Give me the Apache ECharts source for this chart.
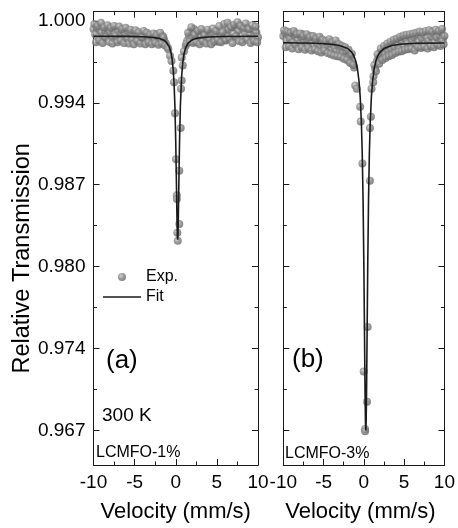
<!DOCTYPE html>
<html>
<head>
<meta charset="utf-8">
<script src="https://cdn.jsdelivr.net/npm/echarts@6.0.0/dist/echarts.min.js"></script>
<style>
  html, body { margin: 0; padding: 0; background: #ffffff; }
  #chart { width: 458px; height: 528px; }
</style>
</head>
<body>
<div id="chart"></div>
<script>
// Mössbauer spectra at 300 K: LCMFO-1% (a) and LCMFO-3% (b)

// Velocity channels of the flat wings (mm/s), shared by both spectra
const wingVel = [
  -10, -9.8, -9.6, -9.4, -9.2, -9, -8.8, -8.6, -8.4, -8.2,
  -8, -7.8, -7.6, -7.4, -7.2, -7, -6.8, -6.6, -6.4, -6.2,
  -6, -5.8, -5.6, -5.4, -5.2, -5, -4.8, -4.6, -4.4, -4.2,
  -4, -3.8, -3.6, -3.4, -3.2, -3, -2.8, -2.6, -2.4, -2.2,
  -2, -1.8, -1.6, -1.4, -1.2,
  1.2, 1.4, 1.6, 1.8, 2, 2.2, 2.4, 2.6, 2.8, 3,
  3.2, 3.4, 3.6, 3.8, 4, 4.2, 4.4, 4.6, 4.8, 5,
  5.2, 5.4, 5.6, 5.8, 6, 6.2, 6.4, 6.6, 6.8, 7,
  7.2, 7.4, 7.6, 7.8, 8, 8.2, 8.4, 8.6, 8.8, 9,
  9.2, 9.4, 9.6, 9.8, 10
];
// Interleaved channels between the ones above
const wingVel2 = [
  -9.9, -9.7, -9.5, -9.3, -9.1, -8.9, -8.7, -8.5, -8.3, -8.1,
  -7.9, -7.7, -7.5, -7.3, -7.1, -6.9, -6.7, -6.5, -6.3, -6.1,
  -5.9, -5.7, -5.5, -5.3, -5.1, -4.9, -4.7, -4.5, -4.3, -4.1,
  -3.9, -3.7, -3.5, -3.3, -3.1, -2.9, -2.7, -2.5, -2.3, -2.1,
  -1.9, -1.7, -1.5, -1.3,
  1.3, 1.5, 1.7, 1.9, 2.1, 2.3, 2.5, 2.7, 2.9, 3.1,
  3.3, 3.5, 3.7, 3.9, 4.1, 4.3, 4.5, 4.7, 4.9, 5.1,
  5.3, 5.5, 5.7, 5.9, 6.1, 6.3, 6.5, 6.7, 6.9, 7.1,
  7.3, 7.5, 7.7, 7.9, 8.1, 8.3, 8.5, 8.7, 8.9, 9.1,
  9.3, 9.5, 9.7, 9.9
];

// LCMFO-1%: measured transmission on the wings
const wingA = [
  0.99935, 0.99895, 0.99948, 0.99872, 0.99930, 0.99905, 0.99858, 0.99920, 0.99940, 0.99880,
  0.99912, 0.99865, 0.99925, 0.99895, 0.99850, 0.99918, 0.99890, 0.99930, 0.99862, 0.99900,
  0.99875, 0.99915, 0.99848, 0.99895, 0.99870, 0.99905, 0.99855, 0.99885, 0.99840, 0.99900,
  0.99868, 0.99845, 0.99890, 0.99858, 0.99880, 0.99838, 0.99875, 0.99850, 0.99895, 0.99842,
  0.99870, 0.99835, 0.99880, 0.99845, 0.99820,
  0.99800, 0.99845, 0.99880, 0.99915, 0.99870, 0.99935, 0.99890, 0.99850, 0.99905, 0.99875,
  0.99840, 0.99900, 0.99865, 0.99910, 0.99845, 0.99885, 0.99905, 0.99860, 0.99895, 0.99870,
  0.99835, 0.99900, 0.99875, 0.99915, 0.99850, 0.99890, 0.99930, 0.99865, 0.99945, 0.99900,
  0.99955, 0.99880, 0.99925, 0.99965, 0.99850, 0.99935, 0.99905, 0.99870, 0.99940, 0.99895,
  0.99860, 0.99925, 0.99880, 0.99910, 0.99870
];
const wingA2 = [
  0.99975, 0.99830, 0.99960, 0.99845, 0.99985, 0.99825, 0.99950, 0.99870, 0.99965, 0.99835,
  0.99945, 0.99820, 0.99960, 0.99880, 0.99830, 0.99955, 0.99845, 0.99935, 0.99825, 0.99945,
  0.99860, 0.99820, 0.99930, 0.99850, 0.99815, 0.99925, 0.99840, 0.99910, 0.99820, 0.99870,
  0.99920, 0.99815, 0.99905, 0.99830, 0.99890, 0.99815, 0.99900, 0.99825, 0.99885, 0.99810,
  0.99905, 0.99820, 0.99870, 0.99805,
  0.99820, 0.99905, 0.99835, 0.99950, 0.99825, 0.99890, 0.99830, 0.99920, 0.99815, 0.99935,
  0.99840, 0.99885, 0.99820, 0.99930, 0.99855, 0.99815, 0.99940, 0.99835, 0.99920, 0.99850,
  0.99960, 0.99830, 0.99910, 0.99975, 0.99845, 0.99985, 0.99860, 0.99950, 0.99825, 0.99970,
  0.99875, 0.99990, 0.99840, 0.99960, 0.99830, 0.99945, 0.99980, 0.99850, 0.99935, 0.99825,
  0.99965, 0.99840, 0.99955, 0.99830
];
// LCMFO-1%: channels inside the absorption line
const dipVelA = [-1.0, -0.91, -0.70, -0.52, -0.30, -0.21, -0.09, 0.03, 0.12, 0.13,
                 0.19, 0.24, 0.43, 0.43, 0.60, 0.64, 0.72, 0.72, 0.85, 1.0];
const dipA = [0.99790, 0.99775, 0.99723, 0.99681, 0.99605, 0.99514, 0.99266, 0.98901, 0.98616, 0.98587,
              0.98319, 0.98254, 0.98387, 0.98810, 0.99149, 0.99462, 0.99527, 0.99710, 0.99645, 0.99760];
// LCMFO-1%: fitted curve
const fitVelA = [-10, -6, -4, -3, -2, -1.5, -1.2, -1.0, -0.8, -0.6, -0.45, -0.3, -0.2, -0.1, 0,
                 0.08, 0.15, 0.2, 0.23, 0.26, 0.3, 0.38, 0.46, 0.56, 0.7, 0.85, 1.0, 1.2, 1.5,
                 2, 2.5, 3.5, 4.5, 6, 10];
const fitA = [0.99878, 0.99877, 0.99874, 0.99870, 0.99861, 0.99849, 0.99835, 0.99820, 0.99796, 0.99754,
              0.99700, 0.99604, 0.99495, 0.99320, 0.99037, 0.98718, 0.98425, 0.98289, 0.98264, 0.98289,
              0.98391, 0.98718, 0.99037, 0.99320, 0.99545, 0.99669, 0.99736, 0.99786, 0.99823, 0.99850,
              0.99861, 0.99870, 0.99874, 0.99876, 0.99878];

// LCMFO-3%: measured transmission on the wings
const wingB = [
  0.99880, 0.99905, 0.99845, 0.99895, 0.99860, 0.99910, 0.99830, 0.99885, 0.99900, 0.99850,
  0.99820, 0.99870, 0.99895, 0.99835, 0.99860, 0.99810, 0.99850, 0.99880, 0.99825, 0.99800,
  0.99845, 0.99815, 0.99865, 0.99790, 0.99830, 0.99805, 0.99780, 0.99840, 0.99795, 0.99820,
  0.99770, 0.99810, 0.99785, 0.99760, 0.99800, 0.99755, 0.99780, 0.99740, 0.99720, 0.99760,
  0.99700, 0.99680, 0.99720, 0.99660, 0.99630,
  0.99560, 0.99620, 0.99680, 0.99700, 0.99745, 0.99720, 0.99770, 0.99740, 0.99795, 0.99760,
  0.99805, 0.99775, 0.99830, 0.99790, 0.99850, 0.99810, 0.99775, 0.99840, 0.99870, 0.99800,
  0.99855, 0.99820, 0.99880, 0.99790, 0.99845, 0.99870, 0.99810, 0.99885, 0.99835, 0.99800,
  0.99860, 0.99890, 0.99820, 0.99865, 0.99840, 0.99800, 0.99875, 0.99900, 0.99830, 0.99870,
  0.99810, 0.99885, 0.99910, 0.99850, 0.99880
];
const wingB2 = [
  0.99925, 0.99790, 0.99915, 0.99800, 0.99905, 0.99780, 0.99920, 0.99810, 0.99895, 0.99775,
  0.99900, 0.99790, 0.99880, 0.99770, 0.99895, 0.99785, 0.99870, 0.99765, 0.99880, 0.99775,
  0.99860, 0.99760, 0.99875, 0.99750, 0.99850, 0.99765, 0.99840, 0.99745, 0.99855, 0.99735,
  0.99830, 0.99725, 0.99845, 0.99720, 0.99815, 0.99715, 0.99800, 0.99700, 0.99790, 0.99690,
  0.99770, 0.99665, 0.99740, 0.99650,
  0.99650, 0.99600, 0.99735, 0.99660, 0.99780, 0.99690, 0.99800, 0.99705, 0.99820, 0.99720,
  0.99835, 0.99730, 0.99850, 0.99745, 0.99860, 0.99755, 0.99875, 0.99760, 0.99885, 0.99770,
  0.99890, 0.99775, 0.99895, 0.99780, 0.99900, 0.99765, 0.99905, 0.99790, 0.99915, 0.99785,
  0.99910, 0.99795, 0.99920, 0.99780, 0.99925, 0.99800, 0.99915, 0.99790, 0.99930, 0.99810,
  0.99920, 0.99800, 0.99935, 0.99815
];
// LCMFO-3%: channels inside the absorption line
const dipVelB = [-1.07, -0.88, -0.46, -0.39, -0.18, -0.02, 0.15, 0.15, 0.39, 0.47,
                 0.75, 0.75, 0.87, 0.95, 1.16];
const dipB = [0.99488, 0.99462, 0.99319, 0.99201, 0.98869, 0.97217, 0.96761, 0.96743, 0.96978, 0.97570,
              0.98731, 0.99149, 0.99240, 0.99462, 0.99514];
// LCMFO-3%: fitted curve
const fitVelB = [-10, -6, -4, -3, -2, -1.5, -1.2, -1.0, -0.8, -0.6, -0.45, -0.3, -0.2, -0.1, 0,
                 0.08, 0.15, 0.2, 0.24, 0.28, 0.33, 0.40, 0.48, 0.58, 0.68, 0.78, 0.93, 1.08, 1.28,
                 1.48, 1.68, 1.98, 2.48, 3.48, 4.48, 6.48, 10];
const fitB = [0.99826, 0.99822, 0.99815, 0.99805, 0.99781, 0.99750, 0.99716, 0.99679, 0.99620, 0.99520,
              0.99393, 0.99176, 0.98941, 0.98584, 0.98054, 0.97508, 0.97038, 0.96812, 0.96750, 0.96812,
              0.97038, 0.97508, 0.98054, 0.98584, 0.98941, 0.99176, 0.99393, 0.99520, 0.99620, 0.99679,
              0.99716, 0.99750, 0.99781, 0.99805, 0.99815, 0.99822, 0.99825];

// Transmission axis: major ticks with their printed labels, and minor ticks
const yTickValues = [0.9675, 0.974, 0.9805, 0.987, 0.9935, 1.000];
const yTickLabels = ['0.967', '0.974', '0.980', '0.987', '0.994', '1.000'];
const yMinorValues = [0.97075, 0.97725, 0.98375, 0.99025, 0.99675];
const yRange = [0.96475, 1.00073];
const xRange = [-10, 10];

function zip(xs, ys) {
  const n = Math.min(xs.length, ys.length);
  const out = [];
  for (let i = 0; i < n; i++) out.push([xs[i], ys[i]]);
  return out;
}

const expA = zip(wingVel, wingA).concat(zip(wingVel2, wingA2), zip(dipVelA, dipA));
const expB = zip(wingVel, wingB).concat(zip(wingVel2, wingB2), zip(dipVelB, dipB));
const curveA = zip(fitVelA, fitA);
const curveB = zip(fitVelB, fitB);

const FONT = '"Liberation Sans", Arial, Helvetica, sans-serif';
const INK = '#1a1a1a';

// shaded grey ball used for the measured points
const sphere = {
  type: 'radial', x: 0.38, y: 0.35, r: 0.7,
  colorStops: [
    { offset: 0, color: '#c8c8c8' },
    { offset: 0.4, color: '#8c8c8c' },
    { offset: 1, color: '#606060' }
  ]
};

function labelFor(v) {
  for (let i = 0; i < yTickValues.length; i++) {
    if (Math.abs(yTickValues[i] - v) < 1e-7) return yTickLabels[i];
  }
  return '';
}

function xAxes(gridIndex) {
  const common = {
    gridIndex: gridIndex, type: 'value', min: xRange[0], max: xRange[1], interval: 5,
    axisLine: { show: true, onZero: false, lineStyle: { color: INK, width: 1 } },
    axisTick: { show: true, inside: true, length: 6, lineStyle: { color: INK } },
    minorTick: { show: true, splitNumber: 2, length: 3.5, lineStyle: { color: INK } },
    splitLine: { show: false }, minorSplitLine: { show: false }
  };
  return [
    Object.assign({}, common, {
      position: 'bottom',
      axisLabel: { show: true, margin: 8, fontSize: 19, color: '#000', fontFamily: FONT },
      name: 'Velocity (mm/s)', nameLocation: 'middle', nameGap: 36,
      nameTextStyle: { fontSize: 22, color: '#000', fontFamily: FONT,
                       padding: gridIndex === 1 ? [0, 7, 0, 0] : [0, 0, 0, 0] }
    }),
    Object.assign({}, common, { position: 'top', axisLabel: { show: false } })
  ];
}

function yAxes(gridIndex, withLabels) {
  const common = {
    gridIndex: gridIndex, type: 'value', min: yRange[0], max: yRange[1], scale: true,
    axisLine: { show: true, onZero: false, lineStyle: { color: INK, width: 1 } },
    splitLine: { show: false }
  };
  const major = {
    axisTick: { show: true, inside: true, length: 6, customValues: yTickValues, lineStyle: { color: INK } }
  };
  const minor = {
    axisTick: { show: true, inside: true, length: 3.5, customValues: yMinorValues, lineStyle: { color: INK } },
    axisLabel: { show: false }
  };
  const leftMajor = Object.assign({}, common, major, {
    position: 'left',
    axisLabel: withLabels
      ? { show: true, customValues: yTickValues, formatter: labelFor, margin: 8,
          fontSize: 19, color: '#000', fontFamily: FONT }
      : { show: false }
  });
  if (withLabels) {
    Object.assign(leftMajor, {
      name: 'Relative Transmission', nameLocation: 'middle', nameRotate: 90, nameGap: 57,
      nameTextStyle: { fontSize: 23.5, color: '#000', fontFamily: FONT, padding: [0, 40, 0, 0] }
    });
  }
  return [
    leftMajor,
    Object.assign({}, common, minor, { position: 'left' }),
    Object.assign({}, common, major, { position: 'right', axisLabel: { show: false } }),
    Object.assign({}, common, minor, { position: 'right' })
  ];
}

const chart = echarts.init(document.getElementById('chart'), null, { renderer: 'canvas' });

// free-standing annotation, anchored at its left edge and vertical middle
function note(text, x, y, size) {
  return {
    type: 'text', x: x, y: y,
    style: { text: text, fontSize: size, fontFamily: FONT, fill: '#000',
             align: 'left', verticalAlign: 'middle' }
  };
}

chart.setOption({
  backgroundColor: '#ffffff',
  animation: false,
  textStyle: { fontFamily: FONT },
  grid: [
    { left: 93.5, top: 11.7, width: 164.5, height: 458.3 },
    { left: 283.3, top: 11.7, width: 164.4, height: 458.3 }
  ],
  xAxis: xAxes(0).concat(xAxes(1)),
  yAxis: yAxes(0, true).concat(yAxes(1, false)),
  legend: {
    data: [
      { name: 'Exp.' },
      { name: 'Fit', icon: 'path://M0,0 L38,0 L38,1.6 L0,1.6 Z', itemStyle: { color: INK } }
    ],
    orient: 'vertical', left: 103, top: 269, padding: 0,
    itemWidth: 38, itemHeight: 8, itemGap: 4,
    textStyle: { fontSize: 16, color: '#000', fontFamily: FONT }
  },
  series: [
    {
      name: 'Exp.', type: 'scatter', xAxisIndex: 0, yAxisIndex: 0, data: expA,
      symbol: 'circle', symbolSize: 8, itemStyle: { color: sphere }, z: 2
    },
    {
      name: 'Fit', type: 'line', xAxisIndex: 0, yAxisIndex: 0, data: curveA,
      symbol: 'none', itemStyle: { color: INK }, lineStyle: { color: INK, width: 1.6 }, z: 3
    },
    {
      name: 'Exp.', type: 'scatter', xAxisIndex: 2, yAxisIndex: 4, data: expB,
      symbol: 'circle', symbolSize: 8, itemStyle: { color: sphere }, z: 2
    },
    {
      name: 'Fit', type: 'line', xAxisIndex: 2, yAxisIndex: 4, data: curveB,
      symbol: 'none', itemStyle: { color: INK }, lineStyle: { color: INK, width: 1.6 }, z: 3
    }
  ],
  graphic: [
    note('(a)', 106, 361, 26),
    note('(b)', 292, 360, 26),
    note('300 K', 102, 416, 19),
    note('LCMFO-1%', 96, 453, 16),
    note('LCMFO-3%', 285, 454, 16)
  ]
});
</script>
</body>
</html>
